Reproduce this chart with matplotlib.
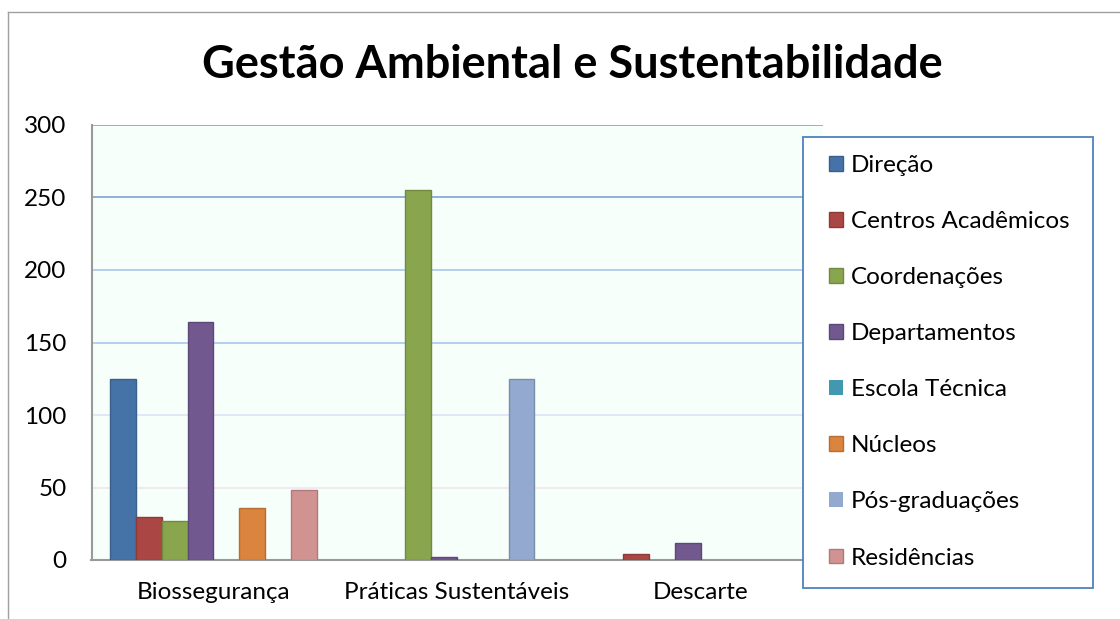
import matplotlib
matplotlib.use("Agg")
import matplotlib.pyplot as plt
import numpy as np
from matplotlib.patches import Rectangle
from matplotlib.lines import Line2D

categories = ["Biossegurança", "Práticas Sustentáveis", "Descarte"]
series_names = ["Direção", "Centros Acadêmicos", "Coordenações", "Departamentos",
                "Escola Técnica", "Núcleos", "Pós-graduações", "Residências"]
direcao = [125, 0, 0]
centros = [30, 0, 4]
coordenacoes = [27, 255, 0]
departamentos = [164, 2, 12]
escola = [0, 0, 0]
nucleos = [36, 0, 0]
pos = [0, 125, 0]
residencias = [48, 0, 0]
values = [direcao, centros, coordenacoes, departamentos, escola, nucleos, pos, residencias]
yticks = [0, 50, 100, 150, 200, 250, 300]

colors = ["#4572A7", "#AA4643", "#89A54E", "#71588F", "#4198AF", "#DB843D", "#93A9CF", "#D19392"]
edges = ["#3A5F8C", "#8E3A38", "#718A40", "#5D4877", "#357F92", "#B66E33", "#7A8DAD", "#AE7A79"]

FONT = "Lato"
plt.rcParams['font.family'] = [FONT, 'DejaVu Sans']

W, H = 1120, 619
fig = plt.figure(figsize=(W / 100, H / 100), dpi=100)
fig.patch.set_facecolor("white")

# chart outer border
fig.add_artist(Line2D([8 / W, 8 / W], [0, 1 - 12 / H], transform=fig.transFigure, color="#A0A0A0", lw=1))
fig.add_artist(Line2D([8 / W, 1], [1 - 12 / H, 1 - 12 / H], transform=fig.transFigure, color="#A0A0A0", lw=1))

left, right = 91.5 / W, 822.5 / W
bottom, top = 1 - 560 / H, 1 - 125 / H
ax = fig.add_axes([left, bottom, right - left, top - bottom])
ax.set_facecolor("#F7FFFB")

x = np.arange(len(categories))
w = 0.106
for i, (name, vals) in enumerate(zip(series_names, values)):
    lws = [1 if v > 0 else 0 for v in vals]
    ax.bar(x + (i - 3.5) * w, vals, width=w, color=colors[i], edgecolor=edges[i],
           linewidth=lws, label=name, zorder=3)

ax.set_xlim(-0.5, len(categories) - 0.5)
ax.set_ylim(0, 300)
ax.set_yticks(yticks)
ax.set_yticklabels([str(t) for t in yticks], fontsize=17.5)
ax.set_xticks(x)
ax.set_xticklabels(categories, fontsize=17.5)
ax.tick_params(axis="x", length=0, pad=16)
ax.tick_params(axis="y", length=0, pad=18)

grid_colors = {50: "#F2E4EE", 100: "#DDE3F6", 150: "#A9C8EE", 200: "#A9C8EE", 250: "#7EA3D4", 300: "#7EA3D4"}
for yv, c in grid_colors.items():
    ax.axhline(yv, color=c, lw=1.2, zorder=1)

for s in ["top", "right"]:
    ax.spines[s].set_visible(False)
ax.spines["left"].set_color("#999999")
ax.spines["bottom"].set_color("#999999")
ax.spines["left"].set_linewidth(1.5)
ax.spines["bottom"].set_linewidth(1.5)

fig.text(572 / W, 1 - 65 / H, "Gestão Ambiental e Sustentabilidade", ha="center", va="center",
         fontsize=32.5, fontweight="bold")

# legend box
fig.add_artist(Rectangle((803 / W, 1 - 588 / H), (1093 - 803) / W, (588 - 137) / H,
                         transform=fig.transFigure, facecolor="white", edgecolor="#4F81BD",
                         lw=1.3, zorder=5))
leg = fig.legend(loc="upper left", bbox_to_anchor=(819 / W, 1 - 145 / H), frameon=False,
                 fontsize=17.5, handlelength=0.57, handleheight=0.57, handletextpad=0.35,
                 labelspacing=1.445, borderaxespad=0)
leg.set_zorder(6)

fig.savefig("out.png", dpi=100)
